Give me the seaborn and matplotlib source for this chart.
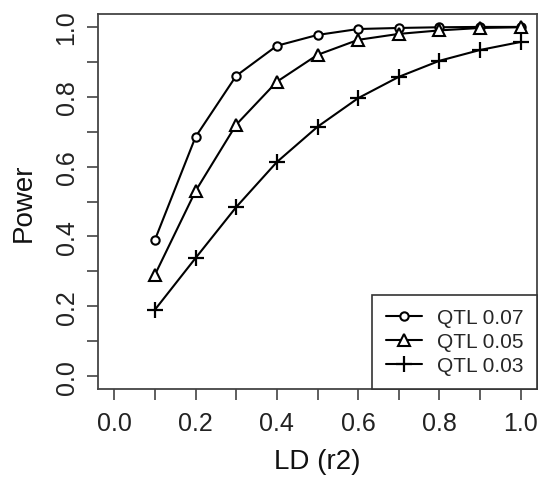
import matplotlib
matplotlib.use("Agg")
import matplotlib.pyplot as plt
import seaborn as sns
import pandas as pd
import numpy as np

# LD (r2) values and power estimates for three QTL effect sizes
ld_r2 = [0.1, 0.2, 0.3, 0.4, 0.5, 0.6, 0.7, 0.8, 0.9, 1.0]
power_qtl07 = [0.39, 0.685, 0.86, 0.946, 0.977, 0.994, 0.997, 0.999, 1.0, 1.0]
power_qtl05 = [0.29, 0.53, 0.72, 0.843, 0.92, 0.963, 0.98, 0.99, 0.997, 0.999]
power_qtl03 = [0.19, 0.338, 0.484, 0.613, 0.714, 0.796, 0.857, 0.903, 0.934, 0.957]
series_labels = ["QTL 0.07", "QTL 0.05", "QTL 0.03"]

x_ticks = [0.0, 0.1, 0.2, 0.3, 0.4, 0.5, 0.6, 0.7, 0.8, 0.9, 1.0]
y_ticks = [0.0, 0.1, 0.2, 0.3, 0.4, 0.5, 0.6, 0.7, 0.8, 0.9, 1.0]
tick_labels = ["0.0", "", "0.2", "", "0.4", "", "0.6", "", "0.8", "", "1.0"]

sns.set_style("ticks")
plt.rcParams["font.family"] = ["Liberation Sans", "DejaVu Sans"]

df = pd.DataFrame({
    "ld": ld_r2 * 3,
    "power": power_qtl07 + power_qtl05 + power_qtl03,
    "series": [s for s in series_labels for _ in ld_r2],
})

fig = plt.figure(figsize=(5.4, 4.85), dpi=100)
ax = fig.add_axes([98 / 540, 95 / 485, 439 / 540, 375 / 485])

marker_styles = {
    "QTL 0.07": dict(marker="o", markersize=6, markerfacecolor="white",
                     markeredgewidth=1.5),
    "QTL 0.05": dict(marker="^", markersize=9, markerfacecolor="white",
                     markeredgewidth=1.5),
    "QTL 0.03": dict(marker="+", markersize=12, markeredgewidth=1.6),
}
for name in series_labels:
    sub = df[df["series"] == name]
    sns.lineplot(data=sub, x="ld", y="power", ax=ax, color="black",
                 linewidth=1.5, markeredgecolor="black", label=name,
                 **marker_styles[name])

ax.set_xlim(-0.04, 1.04)
ax.set_ylim(-0.037, 1.037)
ax.set_xticks(x_ticks)
ax.set_xticklabels(tick_labels)
ax.set_yticks(y_ticks)
ax.set_yticklabels(tick_labels, rotation=90, va="center")
ax.tick_params(axis="both", labelsize=18, length=8, width=1.1,
               color="#333333", labelcolor="#222222")
ax.tick_params(axis="x", pad=8)
ax.tick_params(axis="y", pad=6)
for sp in ax.spines.values():
    sp.set_visible(True)
    sp.set_color("#444444")
    sp.set_linewidth(1.3)

ax.set_xlabel("LD (r2)", fontsize=20, color="#111111", labelpad=9)
ax.set_ylabel("Power", fontsize=20, color="#111111", labelpad=13)

leg = ax.legend(loc="lower right", fontsize=15, frameon=True, fancybox=False,
                borderaxespad=0, borderpad=0.65, labelspacing=0.25,
                handlelength=1.75, handletextpad=0.7)
leg.get_frame().set_edgecolor("#333333")
leg.get_frame().set_linewidth(1.2)
leg.get_frame().set_alpha(1)

fig.savefig("out.png", dpi=100, facecolor="white")
